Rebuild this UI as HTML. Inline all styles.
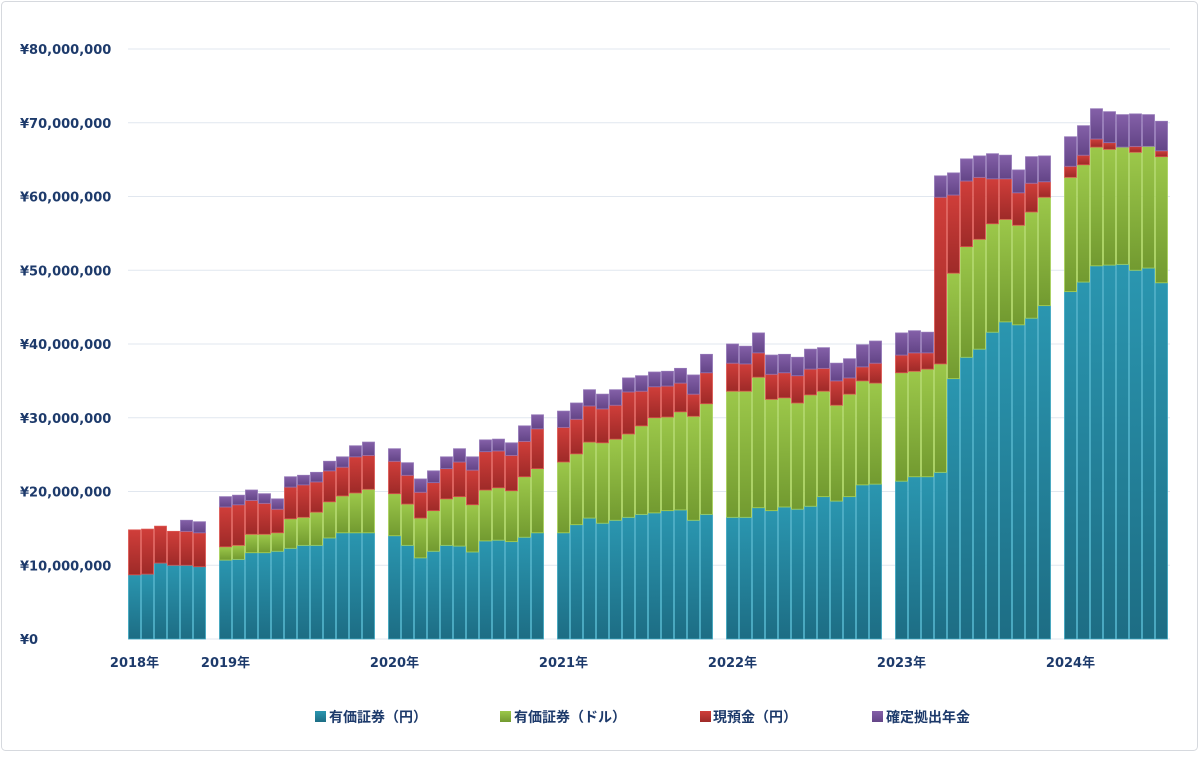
<!DOCTYPE html>
<html><head><meta charset="utf-8">
<style>
html,body{margin:0;padding:0;background:#fff;}
body{width:1200px;height:753px;overflow:hidden;font-family:"Liberation Sans","Noto Sans CJK JP",sans-serif;}
svg text{font-family:"Liberation Sans","Noto Sans CJK JP",sans-serif;font-weight:bold;fill:#1d3a6b;}
svg text.wide{font-family:"DejaVu Sans","Noto Sans CJK JP",sans-serif;}
</style></head>
<body>
<svg id="chart" width="1200" height="753" viewBox="0 0 1200 753" xmlns="http://www.w3.org/2000/svg">
<defs>
<linearGradient id="gb" x1="0" y1="0" x2="0" y2="1"><stop offset="0" stop-color="#2a96b0"/><stop offset="1" stop-color="#1d6d84"/></linearGradient>
<linearGradient id="gg" x1="0" y1="0" x2="0" y2="1"><stop offset="0" stop-color="#9cc84a"/><stop offset="1" stop-color="#729a30"/></linearGradient>
<linearGradient id="gr" x1="0" y1="0" x2="0" y2="1"><stop offset="0" stop-color="#d03e3a"/><stop offset="1" stop-color="#9e2a28"/></linearGradient>
<linearGradient id="gp" x1="0" y1="0" x2="0" y2="1"><stop offset="0" stop-color="#8460a8"/><stop offset="1" stop-color="#634587"/></linearGradient>
</defs>
<rect x="1.5" y="1.5" width="1196" height="749" rx="4" fill="#fff" stroke="#d6d9de"/>
<g id="grid"></g>
<g id="bars"></g>
<g id="xlabels"></g>
<g id="legend">
  <g><rect x="315" y="711" width="11" height="11" fill="url(#gb)"/><text x="329" y="722" font-size="14">有価証券（円）</text></g>
  <g><rect x="500" y="711" width="11" height="11" fill="url(#gg)"/><text x="514" y="722" font-size="14">有価証券（ドル）</text></g>
  <g><rect x="700" y="711" width="11" height="11" fill="url(#gr)"/><text x="713" y="722" font-size="14">現預金（円）</text></g>
  <g><rect x="872" y="711" width="11" height="11" fill="url(#gp)"/><text x="886" y="722" font-size="14">確定拠出年金</text></g>
</g>
</svg>
<script>
const years = ["2018年","2019年","2020年","2021年","2022年","2023年","2024年"];
const monthsPerYear = [6,12,12,12,12,12,8];
const yTicks = [0,10,20,30,40,50,60,70,80];
const securitiesYen = [
 8.7,8.8,10.3,10.0,10.0,9.8,
 10.7,10.8,11.7,11.7,11.9,12.3,12.7,12.7,13.7,14.4,14.4,14.4,
 14.0,12.7,11.0,11.9,12.7,12.6,11.8,13.3,13.4,13.2,13.8,14.4,
 14.4,15.5,16.4,15.7,16.1,16.5,16.9,17.1,17.4,17.5,16.1,16.9,
 16.5,16.5,17.8,17.4,17.9,17.6,18.0,19.3,18.7,19.3,20.9,21.0,
 21.4,22.0,22.0,22.6,35.3,38.2,39.3,41.6,43.0,42.6,43.5,45.2,
 47.1,48.4,50.6,50.7,50.8,50.0,50.3,48.3];
const securitiesUsd = [
 0,0,0,0,0,0,
 1.8,1.9,2.5,2.5,2.5,4.0,3.8,4.5,4.9,5.0,5.4,5.9,
 5.7,5.6,5.4,5.5,6.3,6.7,6.4,6.9,7.1,6.9,8.2,8.7,
 9.6,9.6,10.3,10.9,11.0,11.3,12.0,12.9,12.7,13.3,14.1,15.0,
 17.1,17.1,17.7,15.1,14.8,14.4,15.1,14.3,13.0,13.9,14.1,13.7,
 14.7,14.3,14.6,14.7,14.3,15.0,14.9,14.7,13.9,13.5,14.4,14.7,
 15.5,15.9,16.1,15.7,15.9,16.0,16.5,17.1];
const cashYen = [
 6.1,6.1,5.0,4.6,4.6,4.6,
 5.4,5.5,4.6,4.2,3.2,4.3,4.4,4.1,4.2,3.9,4.9,4.6,
 4.4,3.9,3.5,3.8,4.1,4.7,4.7,5.2,5.0,4.8,4.8,5.4,
 4.7,4.7,4.9,4.6,4.6,5.7,4.7,4.2,4.2,3.9,3.0,4.2,
 3.8,3.7,3.3,3.4,3.4,3.7,3.5,3.1,3.3,2.2,1.9,2.7,
 2.4,2.5,2.2,22.6,10.6,8.9,8.4,6.1,5.5,4.4,3.9,2.1,
 1.5,1.3,1.1,0.9,0,0.8,0,0.8];
const dcPension = [
 0,0,0,0,1.5,1.5,
 1.4,1.3,1.4,1.3,1.4,1.4,1.3,1.3,1.3,1.4,1.5,1.8,
 1.7,1.7,1.8,1.6,1.6,1.8,1.8,1.6,1.6,1.7,2.1,1.9,
 2.2,2.2,2.2,2.0,2.1,1.9,2.1,2.0,2.0,2.0,2.6,2.5,
 2.6,2.4,2.7,2.6,2.5,2.5,2.7,2.8,2.4,2.6,3.0,3.0,
 3.0,3.0,2.8,2.9,3.0,3.0,2.9,3.4,3.2,3.1,3.6,3.5,
 4.0,4.0,4.1,4.2,4.4,4.4,4.3,4.0];

const NS="http://www.w3.org/2000/svg";
const X0=128, SLOT=13, Y0=639, YMAX=80, PH=590;
function yScale(v){return Y0 - v/YMAX*PH;}
function xSlot(i){return X0 + i*SLOT;}
function mk(tag,attrs,parent){const e=document.createElementNS(NS,tag);for(const k in attrs)e.setAttribute(k,attrs[k]);parent.appendChild(e);return e;}
const grid=document.getElementById('grid');
yTicks.forEach(t=>{
  const y=yScale(t);
  const ln=mk('line',{x1:X0,x2:1170,y1:y,y2:y,stroke:'#e1e7ef','stroke-width':1},grid);
  
  
  const tx=mk('text',{x:20,y:y+5,'font-size':13,'class':'wide'},grid);
  
  
  tx.textContent='¥'+(t*1000000).toLocaleString('en-US');
});
const bars=document.getElementById('bars');
const xl=document.getElementById('xlabels');
const series=[[securitiesYen,'url(#gb)','#3aa6c0'],[securitiesUsd,'url(#gg)','#a8d25a'],[cashYen,'url(#gr)','#dc5550'],[dcPension,'url(#gp)','#9275b6']];
let idx=0, slot=0;
monthsPerYear.forEach((n,yi)=>{
  const lab=mk('text',{x:xSlot(slot)+SLOT/2,y:667,'font-size':13,'text-anchor':'middle','class':'wide'},xl);
  
  
  lab.textContent=years[yi];
  for(let m=0;m<n;m++){
    let cum=0;
    const x=xSlot(slot);
    series.forEach(([arr,fill,edge],si)=>{
      const v=arr[idx];
      if(v>0){
        const y1=yScale(cum+v), y2=yScale(cum);
        const r=mk('rect',{x:x+0.5,y:y1,width:SLOT-1,height:y2-y1,fill:fill,stroke:edge,'stroke-width':0.8},bars);
        
        
      }
      cum+=v;
    });
    idx++; slot++;
  }
  slot++;
});
</script>
</body></html>
